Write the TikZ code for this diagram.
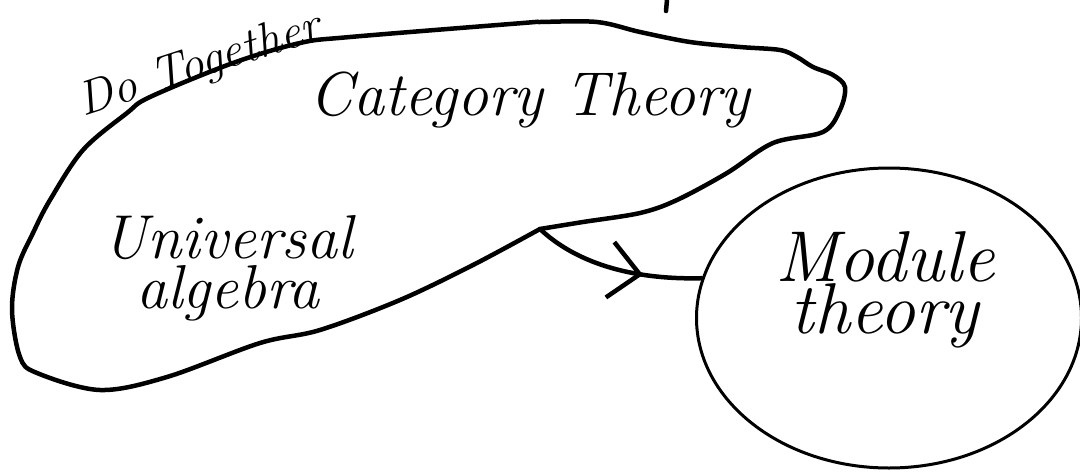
\documentclass[tikz,border=0pt]{standalone}
\usetikzlibrary{shapes.geometric,arrows.meta,decorations.markings}
\tikzset{
  hand/.style={font=\itshape\fontsize{62}{50}\selectfont, align=center, inner sep=0pt},
  pen/.style={line width=4.5pt, line cap=round, line join=round},
}
\begin{document}
\begin{tikzpicture}[x=1pt,y=-1pt]
\useasboundingbox (0,0) rectangle (1080,472);
% the region shared by the two theories
\coordinate (tip) at (540,229);
\draw[pen] plot[smooth,tension=0.55] coordinates {(tip) (583,222) (640,213) (677,200) (727,173) (773,143) (823,132) (840,110) (845,87) (833,75) (813,67) (797,57) (780,50) (740,47) (690,42) (640,32) (597,22) (540,22) (523,23) (350,37) (300,43) (233,63) (150,97) (127,113) (83,150) (50,200) (33,233) (18,267) (12,310) (20,357) (37,373) (100,390) (167,377) (260,343) (320,330) (400,300) (473,265) (tip)};
\draw[pen] (667,0)--(666,11);
\node[hand, font=\itshape\fontsize{48}{48}\selectfont] (do) at (200,66) [rotate=18] {Do Together};
\node[hand] (cat) at (530,100) {Category Theory};
\node[hand] (ua) at (228,268) {Universal\\algebra};
% the other region
\node[draw, ellipse, line width=3pt, minimum width=385pt, minimum height=300pt, inner sep=0pt] (mod) at (889,318) {};
\node[hand, font=\itshape\fontsize{72}{48}\selectfont] (mt) at (885,290) {Module\\theory};
\draw[pen, decoration={markings, mark=at position 0.66 with {\arrow{Straight Barb[length=30pt,width=56pt]}}}, postaction=decorate] (tip) .. controls (575,262) and (630,280) .. (mod.168);
\end{tikzpicture}
\end{document}
